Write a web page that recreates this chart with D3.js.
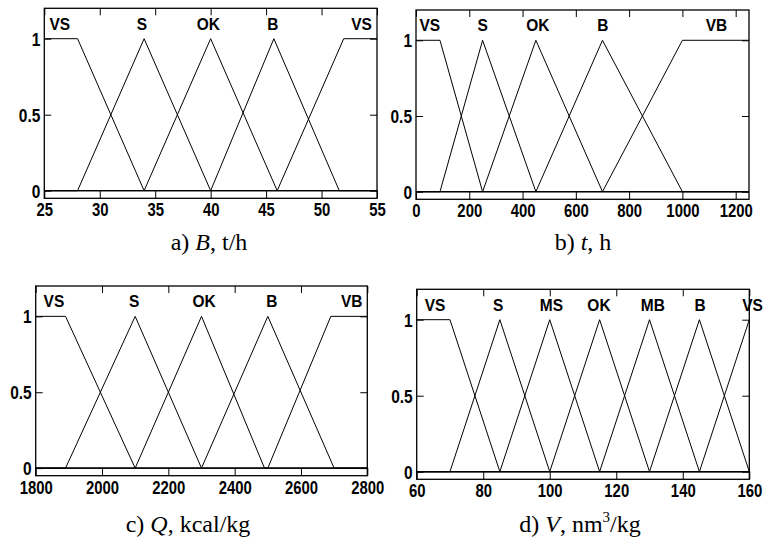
<!DOCTYPE html>
<html>
<head>
<meta charset="utf-8">
<script src="https://cdn.jsdelivr.net/npm/d3@7"></script>
<style>
  body { margin: 0; background: #fff; }
  svg { display: block; }
  .tk text, .lbl { font-family: "Liberation Sans", Arial, sans-serif; font-weight: bold; font-size: 15.5px; fill: #000; }
  .cap { font-family: "Liberation Serif", "Times New Roman", serif; font-size: 24px; fill: #000; }
</style>
</head>
<body>
<div id="fig"></div>
<script>
// a) B, t/h
var aRange = [25, 55];
var aTicks = [25, 30, 35, 40, 45, 50, 55];
var aNames = ["VS", "S", "OK", "B", "VS"];
var aParams = [[25, 25, 28, 34], [28, 34, 34, 40], [34, 40, 40, 46], [40, 45.7, 45.7, 51.6], [46, 52, 55, 55]];
var aLabelX = [26.4, 33.8, 39.8, 45.6, 53.6];

// b) t, h
var bRange = [0, 1250];
var bTicks = [0, 200, 400, 600, 800, 1000, 1200];
var bNames = ["VS", "S", "OK", "B", "VB"];
var bParams = [[0, 0, 90, 250], [90, 250, 250, 450], [250, 450, 450, 700], [450, 700, 700, 1000], [700, 1000, 1250, 1250]];
var bLabelX = [52, 250, 457, 701, 1128];

// c) Q, kcal/kg
var cRange = [1800, 2800];
var cTicks = [1800, 2000, 2200, 2400, 2600, 2800];
var cNames = ["VS", "S", "OK", "B", "VB"];
var cParams = [[1800, 1800, 1890, 2100], [1890, 2100, 2100, 2300], [2100, 2300, 2300, 2490], [2300, 2500, 2500, 2700], [2500, 2690, 2800, 2800]];
var cLabelX = [1855, 2097, 2308, 2512, 2753];

// d) V, nm3/kg
var dRange = [60, 160];
var dTicks = [60, 80, 100, 120, 140, 160];
var dNames = ["VS", "S", "MS", "OK", "MB", "B", "VS"];
var dParams = [[60, 60, 70, 85], [70, 85, 85, 100], [85, 100, 100, 115], [100, 115, 115, 130], [115, 130, 130, 145], [130, 145, 145, 160], [145, 160, 160, 160]];
var dLabelX = [65.5, 84.5, 100.5, 114.8, 131, 145.2, 161];

var yTicks = [0, 0.5, 1];
var yDomain = [-0.05, 1.2];
var labelLevel = 1.06;

var W = 763, H = 552;
var svg = d3.select("#fig").append("svg").attr("width", W).attr("height", H);

function mf(x, p) {
  if (x >= p[1] && x <= p[2]) return 1;
  if (x <= p[0] || x >= p[3]) return 0;
  if (x < p[1]) return (x - p[0]) / (p[1] - p[0]);
  return (p[3] - x) / (p[3] - p[2]);
}

function panel(box, range, ticks, names, params, labelX) {
  var w = box.w, h = box.h;
  var g = svg.append("g").attr("transform", "translate(" + box.x + "," + box.y + ")");
  var x = d3.scaleLinear().domain(range).range([0, w]);
  var y = d3.scaleLinear().domain(yDomain).range([h, 0]);

  // membership functions, each drawn over the whole range
  var line = d3.line().x(function(d) { return x(d[0]); }).y(function(d) { return y(d[1]); });
  params.forEach(function(p) {
    var xs = [range[0], p[0], p[1], p[2], p[3], range[1]]
      .filter(function(v) { return v >= range[0] && v <= range[1]; });
    xs = Array.from(new Set(xs)).sort(d3.ascending);
    g.append("path")
      .attr("d", line(xs.map(function(v) { return [v, mf(v, p)]; })))
      .attr("fill", "none").attr("stroke", "#000").attr("stroke-width", 1);
  });

  // axes, ticks pointing inwards
  var bx = g.append("g").attr("class", "tk").attr("transform", "translate(0," + h + ")")
    .call(d3.axisBottom(x).tickValues(ticks).tickSizeInner(-8).tickSizeOuter(0).tickFormat(d3.format("d")));
  bx.selectAll("text").attr("y", null).attr("dy", null)
    .attr("transform", "translate(0,18) scale(0.96,1.22)");
  g.append("g").attr("class", "tk")
    .call(d3.axisTop(x).tickValues(ticks).tickSizeInner(-7).tickSizeOuter(0).tickFormat(""));
  var ly = g.append("g").attr("class", "tk")
    .call(d3.axisLeft(y).tickValues(yTicks).tickSizeInner(-7).tickSizeOuter(0)
      .tickFormat(function(d) { return d === 0.5 ? "0.5" : String(d); }));
  ly.selectAll("text").attr("x", null).attr("dy", null)
    .attr("transform", "translate(-4,6.5) scale(1,1.15)");
  g.append("g").attr("class", "tk").attr("transform", "translate(" + w + ",0)")
    .call(d3.axisRight(y).tickValues(yTicks).tickSizeInner(-7).tickSizeOuter(0).tickFormat(""));
  g.selectAll(".tk .domain").remove();

  g.append("rect").attr("width", w).attr("height", h)
    .attr("fill", "none").attr("stroke", "#000").attr("stroke-width", 1.3);

  names.forEach(function(n, i) {
    g.append("text").attr("class", "lbl")
      .attr("text-anchor", "middle")
      .attr("transform", "translate(" + x(labelX[i]) + "," + y(labelLevel) + ") scale(1,1.12)")
      .text(n);
  });
}

function caption(cx, cy, parts) {
  var t = svg.append("text").attr("class", "cap").attr("x", cx).attr("y", cy).attr("text-anchor", "middle");
  parts.forEach(function(p) {
    var s = t.append("tspan").text(p.t);
    if (p.i) s.attr("font-style", "italic");
    if (p.sup) s.attr("font-size", "15px").attr("dy", -10);
    if (p.down) s.attr("dy", 10);
  });
}

panel({x: 44.3, y: 8.3, w: 332.7, h: 190}, aRange, aTicks, aNames, aParams, aLabelX);
panel({x: 416, y: 10, w: 333, h: 189.3}, bRange, bTicks, bNames, bParams, bLabelX);
panel({x: 35.7, y: 286, w: 331.6, h: 189.7}, cRange, cTicks, cNames, cParams, cLabelX);
panel({x: 416.7, y: 289.3, w: 332.6, h: 190}, dRange, dTicks, dNames, dParams, dLabelX);

caption(209, 250, [{t: "a) "}, {t: "B", i: true}, {t: ", t/h"}]);
caption(583, 250, [{t: "b) "}, {t: "t", i: true}, {t: ", h"}]);
caption(188, 532, [{t: "c) "}, {t: "Q", i: true}, {t: ", kcal/kg"}]);
caption(580, 532, [{t: "d) "}, {t: "V", i: true}, {t: ", nm"}, {t: "3", sup: true}, {t: "/kg", down: true}]);
</script>
</body>
</html>
